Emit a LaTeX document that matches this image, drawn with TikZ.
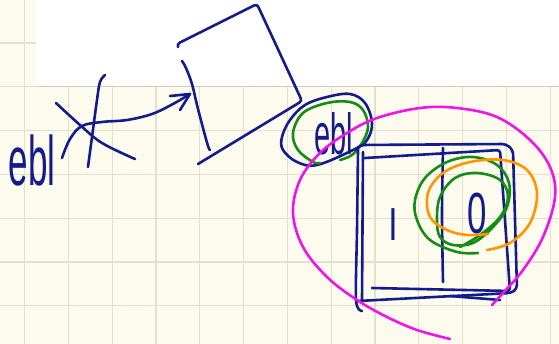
\documentclass[tikz,border=0pt]{standalone}
\usepackage{graphicx}
\usepackage{fontspec}
\setmainfont{Liberation Sans}
\definecolor{paper}{RGB}{253,251,238}
\definecolor{gridc}{RGB}{228,224,206}
\definecolor{ink}{RGB}{18,28,140}
\definecolor{gink}{RGB}{22,140,22}
\definecolor{oink}{RGB}{255,150,0}
\definecolor{mink}{RGB}{240,20,230}
\tikzset{
  pen/.style={line width=2.6pt, line cap=round, line join=round},
  bluepen/.style={pen, draw=ink},
  greenpen/.style={pen, draw=gink},
  orangepen/.style={pen, draw=oink},
  magentapen/.style={pen, draw=mink},
  hand/.style={text=ink, inner sep=0pt}
}
\begin{document}
\begin{tikzpicture}[x=1pt,y=-1pt]
\useasboundingbox (0,0) rectangle (559,344);
% paper
\fill[paper] (0,0) rectangle (559,344);
\foreach \i in {0,...,12} {\draw[gridc, line width=1.2pt] ({24.5+43.8*\i},0) -- ({24.5+43.8*\i},344);}
\foreach \j in {0,...,6} {\draw[gridc, line width=1.2pt] (0,{43+43.8*\j}) -- (559,{43+43.8*\j});}
\fill[white] (36,0) rectangle (559,86);
\draw[gridc!80!gray, line width=1pt] (36,86.5) -- (559,86.5);
% rotated square
\draw[bluepen, rounded corners=3pt] (178,47) -- (177,44) -- (257,4) -- (302,101) -- (198,164);
\draw[bluepen] plot[smooth, tension=0.6] coordinates {(182,61) (186,68) (192,84) (197,105) (203,128) (208,146) (210,150)};
% arrow
\draw[bluepen] plot[smooth, tension=0.6] coordinates {(62,158) (70,139) (82,126) (102,122) (127,120) (152,114) (173,104) (190,94)};
\draw[bluepen] (170,96) -- (190,94) -- (180,110);
% cross
\draw[bluepen] plot[smooth, tension=0.6] coordinates {(56,103) (80,125) (102,143) (135,159)};
\draw[bluepen] plot[smooth, tension=0.6] coordinates {(105,75) (100,82) (97,100) (92,137) (88,167)};
\node[hand] (tleft) at (32,160) {\scalebox{0.5}[1]{\fontsize{70}{70}\selectfont ebl}};
% small ellipse and label
\draw[bluepen] plot[smooth cycle, tension=0.6] coordinates {(305,105) (327,97) (350,94) (365,103) (372,123) (367,140) (353,150) (317,165) (297,162) (283,150) (282,137) (290,120)};
\draw[greenpen] plot[smooth, tension=0.6] coordinates {(340,160) (352,155) (362,143) (368,127) (363,110) (350,102) (327,103) (303,113) (293,133) (298,150) (313,162) (320,163)};
\node[hand] (tsmall) at (334,134) {\scalebox{0.5}[1]{\fontsize{58}{58}\selectfont ebl}};
% big box
\draw[bluepen, rounded corners=4pt] (356,150) -- (360,145) -- (506,144) -- (513,150) -- (517,289) -- (511,293) -- (358,301);
\draw[bluepen, rounded corners=3pt] (365,158) -- (500,150) -- (510,291) -- (372,288);
\draw[bluepen] plot[smooth, tension=0.5] coordinates {(358,150) (357,230) (356,300) (362,311)};
\draw[bluepen] (363,152) -- (362,300);
\draw[bluepen] (450,296) -- (500,300);
\draw[bluepen] plot[smooth, tension=0.5] coordinates {(443,148) (442,215) (443,282)};
\node[hand] (tl) at (393,225) {\scalebox{0.8}[1]{\fontsize{44}{44}\selectfont l}};
\node[hand] (tzero) at (477,214) {\scalebox{0.6}[1]{\fontsize{58}{58}\selectfont 0}};
% green spiral
\draw[greenpen] plot[smooth, tension=0.6] coordinates {(478,253) (457,252) (430,240) (417,220) (415,200) (425,178) (447,162) (473,157) (497,165) (509,183) (507,207) (493,227) (473,243) (453,245) (440,237) (437,220) (440,197) (455,178) (477,173) (500,180) (508,197) (500,217) (480,235) (460,247)};
% orange loop
\draw[orangepen] plot[smooth, tension=0.6] coordinates {(487,250) (510,243) (530,223) (537,193) (527,170) (503,160) (470,162) (443,173) (428,193) (430,217) (447,230) (467,235) (488,234)};
% magenta loop
\draw[magentapen] plot[smooth, tension=0.6] coordinates {(450,339) (417,330) (387,317) (357,300) (327,277) (303,247) (293,213) (300,180) (320,153) (347,133) (377,118) (420,108) (457,108) (497,117) (530,140) (550,167) (555,197) (543,237) (523,270) (503,293) (492,305)};
\end{tikzpicture}
\end{document}
